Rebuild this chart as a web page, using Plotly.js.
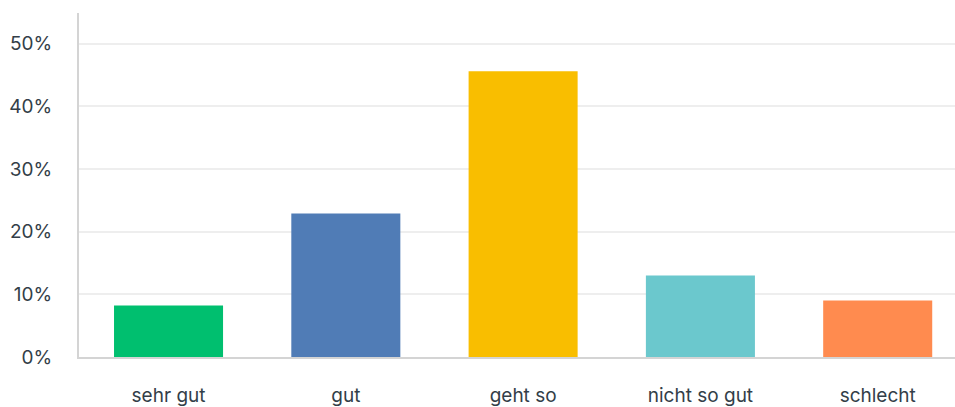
<!DOCTYPE html>
<html>
<head>
<meta charset="utf-8">
<script src="https://cdn.plot.ly/plotly-3.0.1.min.js"></script>
<style>html,body{margin:0;padding:0;background:#fff;}#chart{width:955px;height:407px;}</style>
</head>
<body>
<div id="chart"></div>
<script>
const categories = ["sehr gut", "gut", "geht so", "nicht so gut", "schlecht"];
const values = [0.082, 0.229, 0.456, 0.130, 0.090];
const colors = ["#00BF6F", "#507CB6", "#F9BE00", "#6BC8CD", "#FF8B4F"];
const yTickVals = [0, 0.1, 0.2, 0.3, 0.4, 0.5];
const yTickText = ["0%", "10%", "20%", "30%", "40%", "50%"];

const textColor = "#333E48";
const trace = {
  type: "bar",
  x: categories,
  y: values,
  marker: {color: colors},
  hoverinfo: "none"
};
const layout = {
  width: 955,
  height: 407,
  margin: {l: 79, r: 0, t: 13, b: 50},
  paper_bgcolor: "#fff",
  plot_bgcolor: "#fff",
  bargap: 0.385,
  showlegend: false,
  font: {family: "Inter, 'Open Sans', sans-serif", size: 19, color: textColor},
  xaxis: {
    range: [-0.505, 4.436],
    showline: true, linecolor: "#D4D4D4", linewidth: 2,
    showgrid: false, zeroline: false,
    ticks: "", ticklabelstandoff: 20,
    tickfont: {size: 19, color: textColor}
  },
  yaxis: {
    range: [0, 0.549],
    tickvals: yTickVals, ticktext: yTickText,
    showline: true, linecolor: "#D4D4D4", linewidth: 2,
    showgrid: true, gridcolor: "#EEEEEE", gridwidth: 2,
    zeroline: false, ticks: "", ticklabelstandoff: 21,
    tickfont: {size: 19, color: textColor}
  }
};
Plotly.newPlot("chart", [trace], layout, {staticPlot: true, displayModeBar: false});
</script>
</body>
</html>
